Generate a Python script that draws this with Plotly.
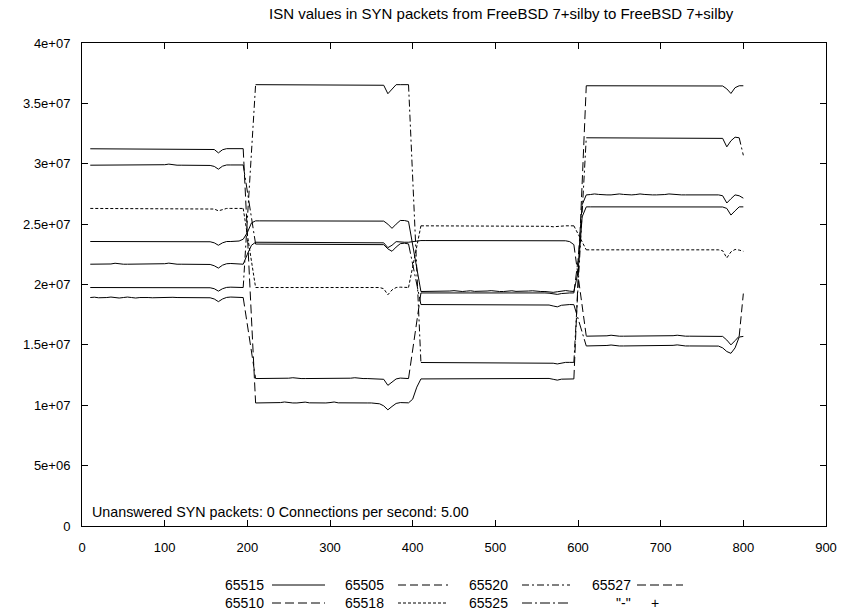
import plotly.graph_objects as go

# Sample positions (connection index), one sample every 5 connections.
# The four phases are 10-195, 210-395, 410-595, 610-800; the two
# values in between each phase belong to the changeover (None = no sample).
x_vals = list(range(10, 801, 5))

# ISN values per source port, in millions.
isn_65510 = [
    31.24, 31.24, 31.24, 31.24, 31.24, 31.24, 31.24, 31.24, 31.24, 31.24,
    31.24, 31.24, 31.24, 31.24, 31.24, 31.24, 31.24, 31.24, 31.24, 31.24,
    31.24, 31.24, 31.24, 31.24, 31.24, 31.24, 31.24, 31.24, 31.24, 31.22,
    31.18, 30.90, 31.16, 31.25, 31.25, 31.25, 31.25, 31.25,
    None, None,
    10.19, 10.19, 10.19, 10.19, 10.19, 10.19, 10.22, 10.27, 10.21, 10.19,
    10.19, 10.22, 10.26, 10.20, 10.19, 10.19, 10.19, 10.19, 10.22, 10.27,
    10.20, 10.19, 10.19, 10.19, 10.19, 10.19, 10.19, 10.19, 10.19, 10.17,
    10.12, 9.95, 9.62, 9.90, 10.15, 10.22, 10.20, 10.20,
    10.50, 11.50,
    12.18, 12.18, 12.18, 12.18, 12.18, 12.18, 12.18, 12.18, 12.18, 12.18,
    12.18, 12.18, 12.18, 12.18, 12.18, 12.18, 12.18, 12.18, 12.18, 12.18,
    12.18, 12.18, 12.18, 12.18, 12.18, 12.18, 12.18, 12.18, 12.18, 12.18,
    12.20, 12.22, 12.15, 12.08, 12.16, 12.18, 12.18, 12.18,
    None, None,
    36.46, 36.46, 36.46, 36.46, 36.46, 36.46, 36.46, 36.46, 36.46, 36.46,
    36.46, 36.46, 36.46, 36.46, 36.46, 36.46, 36.46, 36.46, 36.46, 36.46,
    36.46, 36.46, 36.46, 36.46, 36.46, 36.46, 36.46, 36.46, 36.46, 36.46,
    36.46, 36.46, 36.46, 36.44, 36.20, 35.82, 36.30, 36.46, 36.46,
]

isn_65525 = [
    29.88, 29.88, 29.88, 29.88, 29.88, 29.88, 29.88, 29.88, 29.88, 29.88,
    29.88, 29.88, 29.88, 29.88, 29.88, 29.88, 29.88, 29.88, 29.92, 29.97,
    29.90, 29.88, 29.88, 29.88, 29.88, 29.88, 29.88, 29.88, 29.88, 29.86,
    29.78, 29.55, 29.80, 29.90, 29.90, 29.90, 29.90, 29.90,
    None, None,
    23.35, 23.35, 23.35, 23.35, 23.35, 23.35, 23.35, 23.35, 23.35, 23.35,
    23.35, 23.35, 23.35, 23.35, 23.35, 23.35, 23.35, 23.35, 23.35, 23.35,
    23.35, 23.35, 23.35, 23.35, 23.35, 23.35, 23.35, 23.35, 23.35, 23.35,
    23.35, 23.30, 22.95, 22.75, 23.10, 23.38, 23.42, 23.36,
    None, None,
    18.34, 18.34, 18.34, 18.34, 18.34, 18.34, 18.34, 18.34, 18.34, 18.34,
    18.34, 18.34, 18.34, 18.34, 18.34, 18.34, 18.34, 18.34, 18.34, 18.34,
    18.34, 18.34, 18.34, 18.34, 18.34, 18.34, 18.36, 18.34, 18.34, 18.34,
    18.34, 18.30, 18.22, 18.15, 18.28, 18.34, 18.34, 18.33,
    None, None,
    14.91, 14.91, 14.91, 14.91, 14.91, 14.95, 14.99, 14.93, 14.91, 14.91,
    14.91, 14.91, 14.91, 14.91, 14.91, 14.91, 14.91, 14.91, 14.91, 14.91,
    14.91, 14.96, 15.00, 14.93, 14.91, 14.91, 14.91, 14.91, 14.91, 14.91,
    14.91, 14.91, 14.90, 14.75, 14.45, 14.30, 14.75, 15.65, 15.70,
]

isn_65515 = [
    23.56, 23.56, 23.56, 23.56, 23.56, 23.56, 23.56, 23.56, 23.56, 23.56,
    23.56, 23.56, 23.56, 23.56, 23.56, 23.56, 23.56, 23.56, 23.56, 23.56,
    23.56, 23.56, 23.56, 23.56, 23.56, 23.56, 23.56, 23.56, 23.56, 23.54,
    23.45, 23.25, 23.45, 23.56, 23.56, 23.56, 23.60, 23.75,
    24.30, 25.10,
    25.27, 25.27, 25.27, 25.27, 25.27, 25.27, 25.27, 25.27, 25.27, 25.27,
    25.27, 25.27, 25.27, 25.27, 25.27, 25.27, 25.27, 25.27, 25.27, 25.27,
    25.27, 25.27, 25.27, 25.27, 25.27, 25.27, 25.27, 25.27, 25.27, 25.27,
    25.27, 25.25, 25.00, 24.65, 25.00, 25.30, 25.30, 25.22,
    None, None,
    19.42, 19.42, 19.45, 19.48, 19.43, 19.42, 19.42, 19.46, 19.49, 19.43,
    19.42, 19.45, 19.48, 19.43, 19.42, 19.42, 19.46, 19.49, 19.43, 19.42,
    19.42, 19.45, 19.48, 19.43, 19.42, 19.42, 19.46, 19.48, 19.43, 19.42,
    19.42, 19.40, 19.35, 19.40, 19.45, 19.50, 19.45, 19.42,
    21.00, 25.60,
    26.43, 26.43, 26.43, 26.43, 26.43, 26.43, 26.45, 26.43, 26.43, 26.43,
    26.43, 26.45, 26.47, 26.43, 26.43, 26.43, 26.43, 26.43, 26.45, 26.47,
    26.43, 26.43, 26.43, 26.43, 26.43, 26.43, 26.43, 26.43, 26.43, 26.43,
    26.43, 26.43, 26.43, 26.42, 26.30, 25.75, 26.10, 26.43, 26.43,
]

isn_65505 = [
    21.68, 21.68, 21.68, 21.68, 21.68, 21.70, 21.76, 21.70, 21.68, 21.68,
    21.68, 21.68, 21.68, 21.68, 21.68, 21.68, 21.68, 21.68, 21.72, 21.77,
    21.70, 21.68, 21.68, 21.68, 21.68, 21.68, 21.68, 21.68, 21.68, 21.66,
    21.55, 21.36, 21.60, 21.72, 21.74, 21.70, 21.68, 21.68,
    22.50, 23.25,
    23.50, 23.50, 23.50, 23.50, 23.50, 23.50, 23.50, 23.50, 23.50, 23.50,
    23.50, 23.50, 23.50, 23.50, 23.50, 23.50, 23.50, 23.50, 23.50, 23.50,
    23.50, 23.50, 23.50, 23.50, 23.50, 23.50, 23.50, 23.50, 23.50, 23.50,
    23.50, 23.45, 23.05, 23.25, 23.55, 23.50, 23.50, 23.50,
    23.55, 23.62,
    23.64, 23.64, 23.64, 23.64, 23.64, 23.64, 23.64, 23.64, 23.64, 23.64,
    23.64, 23.64, 23.64, 23.64, 23.64, 23.64, 23.64, 23.64, 23.64, 23.64,
    23.64, 23.64, 23.64, 23.64, 23.64, 23.64, 23.64, 23.64, 23.64, 23.64,
    23.64, 23.64, 23.64, 23.64, 23.64, 23.62, 23.55, 23.30,
    None, None,
    15.72, 15.72, 15.72, 15.72, 15.72, 15.75, 15.80, 15.74, 15.72, 15.72,
    15.72, 15.72, 15.72, 15.72, 15.72, 15.72, 15.72, 15.72, 15.72, 15.72,
    15.72, 15.76, 15.80, 15.74, 15.72, 15.72, 15.72, 15.72, 15.72, 15.72,
    15.72, 15.72, 15.72, 15.70, 15.40, 15.00, 15.35, 15.72, 19.25,
]

isn_65518 = [
    26.30, 26.30, 26.30, 26.30, 26.30, 26.30, 26.30, 26.30, 26.30, 26.30,
    26.30, 26.30, 26.30, 26.30, 26.30, 26.30, 26.30, 26.30, 26.30, 26.30,
    26.30, 26.30, 26.30, 26.30, 26.30, 26.30, 26.30, 26.30, 26.30, 26.30,
    26.25, 26.10, 26.22, 26.30, 26.30, 26.30, 26.30, 26.30,
    None, None,
    19.75, 19.75, 19.75, 19.75, 19.75, 19.75, 19.75, 19.75, 19.75, 19.75,
    19.75, 19.75, 19.75, 19.75, 19.75, 19.75, 19.75, 19.75, 19.75, 19.75,
    19.75, 19.75, 19.75, 19.75, 19.75, 19.75, 19.75, 19.75, 19.75, 19.75,
    19.75, 19.65, 19.15, 19.55, 19.75, 19.78, 19.75, 19.75,
    None, None,
    24.86, 24.86, 24.86, 24.86, 24.86, 24.86, 24.86, 24.86, 24.86, 24.86,
    24.86, 24.86, 24.86, 24.86, 24.86, 24.86, 24.86, 24.86, 24.86, 24.86,
    24.86, 24.86, 24.86, 24.86, 24.86, 24.86, 24.86, 24.86, 24.86, 24.86,
    24.86, 24.82, 24.78, 24.82, 24.86, 24.86, 24.86, 24.86,
    None, None,
    22.87, 22.87, 22.87, 22.87, 22.87, 22.87, 22.87, 22.87, 22.87, 22.87,
    22.87, 22.87, 22.87, 22.87, 22.87, 22.87, 22.87, 22.87, 22.87, 22.87,
    22.87, 22.87, 22.87, 22.87, 22.87, 22.87, 22.87, 22.87, 22.87, 22.87,
    22.87, 22.87, 22.87, 22.80, 22.20, 22.70, 22.90, 22.85, 22.75,
]

isn_65520 = [
    19.75, 19.75, 19.75, 19.75, 19.75, 19.75, 19.75, 19.75, 19.75, 19.75,
    19.75, 19.75, 19.75, 19.75, 19.75, 19.75, 19.75, 19.75, 19.75, 19.75,
    19.75, 19.75, 19.75, 19.75, 19.75, 19.75, 19.75, 19.75, 19.75, 19.73,
    19.65, 19.45, 19.65, 19.76, 19.78, 19.76, 19.75, 19.75,
    None, None,
    36.55, 36.55, 36.55, 36.55, 36.55, 36.55, 36.55, 36.55, 36.55, 36.55,
    36.55, 36.55, 36.55, 36.55, 36.55, 36.55, 36.55, 36.55, 36.55, 36.55,
    36.55, 36.55, 36.55, 36.55, 36.55, 36.55, 36.55, 36.55, 36.55, 36.55,
    36.55, 36.50, 35.80, 36.20, 36.55, 36.55, 36.55, 36.55,
    None, None,
    13.54, 13.54, 13.54, 13.54, 13.54, 13.54, 13.54, 13.54, 13.54, 13.54,
    13.54, 13.54, 13.54, 13.54, 13.54, 13.54, 13.54, 13.54, 13.54, 13.54,
    13.54, 13.54, 13.54, 13.54, 13.54, 13.54, 13.54, 13.54, 13.54, 13.54,
    13.54, 13.52, 13.48, 13.42, 13.50, 13.55, 13.55, 13.55,
    None, None,
    32.15, 32.15, 32.15, 32.15, 32.15, 32.15, 32.15, 32.15, 32.15, 32.15,
    32.15, 32.15, 32.15, 32.15, 32.15, 32.15, 32.15, 32.15, 32.15, 32.15,
    32.15, 32.15, 32.15, 32.15, 32.15, 32.15, 32.15, 32.15, 32.15, 32.15,
    32.15, 32.15, 32.15, 32.10, 31.40, 31.90, 32.20, 32.15, 30.70,
]

isn_65527 = [
    18.92, 18.95, 18.90, 18.88, 18.92, 18.96, 18.92, 18.88, 18.92, 18.96,
    18.92, 18.88, 18.92, 18.95, 18.92, 18.90, 18.92, 18.92, 18.95, 18.98,
    18.94, 18.92, 18.92, 18.92, 18.92, 18.92, 18.92, 18.92, 18.92, 18.90,
    18.80, 18.58, 18.80, 18.93, 18.96, 18.93, 18.92, 18.92,
    None, None,
    12.21, 12.21, 12.21, 12.21, 12.21, 12.21, 12.21, 12.21, 12.24, 12.28,
    12.22, 12.21, 12.21, 12.21, 12.21, 12.21, 12.21, 12.21, 12.21, 12.21,
    12.21, 12.21, 12.21, 12.24, 12.28, 12.22, 12.21, 12.21, 12.21, 12.21,
    12.21, 12.15, 11.65, 11.95, 12.18, 12.25, 12.22, 12.21,
    None, None,
    19.30, 19.30, 19.32, 19.35, 19.31, 19.30, 19.30, 19.33, 19.36, 19.31,
    19.30, 19.30, 19.30, 19.30, 19.30, 19.30, 19.30, 19.30, 19.30, 19.30,
    19.30, 19.30, 19.33, 19.36, 19.31, 19.30, 19.30, 19.30, 19.30, 19.30,
    19.30, 19.28, 19.22, 19.18, 19.25, 19.30, 19.30, 19.30,
    22.00, 26.60,
    27.42, 27.45, 27.50, 27.46, 27.42, 27.42, 27.42, 27.45, 27.50, 27.46,
    27.42, 27.42, 27.45, 27.50, 27.46, 27.42, 27.42, 27.42, 27.42, 27.45,
    27.50, 27.46, 27.42, 27.42, 27.42, 27.42, 27.42, 27.42, 27.42, 27.42,
    27.42, 27.42, 27.42, 27.35, 26.75, 27.10, 27.42, 27.35, 27.15,
]

# Key order (column-major in the key: 65515, 65510, 65505, ...)
ports = ["65515", "65510", "65505", "65518", "65520", "65525", "65527"]
series = {
    "65515": isn_65515,
    "65510": isn_65510,
    "65505": isn_65505,
    "65518": isn_65518,
    "65520": isn_65520,
    "65525": isn_65525,
    "65527": isn_65527,
}

x_tick_vals = [0, 100, 200, 300, 400, 500, 600, 700, 800, 900]
y_tick_vals = [0, 5e6, 1e7, 1.5e7, 2e7, 2.5e7, 3e7, 3.5e7, 4e7]
y_tick_text = ["0", "5e+06", "1e+07", "1.5e+07", "2e+07", "2.5e+07",
               "3e+07", "3.5e+07", "4e+07"]

title_text = "ISN values in SYN packets from FreeBSD 7+silby to FreeBSD 7+silby"
info_text = "Unanswered SYN packets: 0 Connections per second: 5.00"

# ---- styling ----------------------------------------------------------
W, H = 848, 615
ML, MR, MT, MB = 82, 22, 43, 89
PW, PH = W - ML - MR, H - MT - MB
FONT = "Liberation Sans, Arial, Helvetica, sans-serif"
TICK_FS = 13
TITLE_FS = 15
TEXT_FS = 14.3
KEY_FS = 14

# Dash pattern per port; the short, nearly level steps draw solid (the
# pattern restarts on each short step), the long jumps show the pattern.
dash = {
    "65515": "solid",
    "65510": "9px,4px",
    "65505": "8px,4px",
    "65518": "3px,2px",
    "65520": "7px,3px,2px,3px",
    "65525": "10px,3px,2px,3px",
    "65527": "9px,4px",
}
STEEP = 1.0  # million; a step larger than this counts as a jump


def px(xp):
    return (xp - ML) / PW


def py(yp):
    return (H - MB - yp) / PH


def split_steps(xs, vals):
    """Split a series into level steps and jumps (each a None-broken path)."""
    pts = [(x, v * 1e6) for x, v in zip(xs, vals) if v is not None]
    paths = {"level": ([], []), "jump": ([], [])}
    last = {"level": None, "jump": None}
    for (x0, y0), (x1, y1) in zip(pts[:-1], pts[1:]):
        kind = "jump" if abs(y1 - y0) > STEEP * 1e6 else "level"
        px_, py_ = paths[kind]
        if last[kind] != (x0, y0):
            if px_:
                px_.append(None)
                py_.append(None)
            px_.append(x0)
            py_.append(y0)
        px_.append(x1)
        py_.append(y1)
        last[kind] = (x1, y1)
    return paths


fig = go.Figure()
for port in ports:
    paths = split_steps(x_vals, series[port])
    level_dash = "3px,2px" if port == "65518" else "solid"
    for kind, d in (("level", level_dash), ("jump", dash[port])):
        xs, ys = paths[kind]
        if not xs:
            continue
        fig.add_trace(go.Scatter(
            x=xs, y=ys, mode="lines", name=port,
            line=dict(color="#000000", width=1, dash=d),
            showlegend=False,
        ))

annotations = [
    dict(text=title_text, x=px(501), y=py(13), xref="paper", yref="paper",
         xanchor="center", yanchor="middle", showarrow=False,
         font=dict(family=FONT, size=TITLE_FS, color="black")),
    dict(text=info_text, x=px(90), y=py(512), xref="paper", yref="paper",
         xanchor="left", yanchor="middle", showarrow=False,
         font=dict(family=FONT, size=TEXT_FS, color="black")),
]
shapes = []

# key: two rows, four columns, label right-aligned left of its sample
key_cols = [(265, 272, 325), (385, 398, 448), (509, 522, 570), (632, 637, 683)]
key_rows = [585, 603]
key_entries = ports + ['"-"']
for i, label in enumerate(key_entries):
    col, row = divmod(i, 2)
    lx, s0, s1 = key_cols[col]
    yy = key_rows[row]
    annotations.append(dict(
        text=label, x=px(lx), y=py(yy), xref="paper", yref="paper",
        xanchor="right", yanchor="middle", showarrow=False, borderpad=0,
        font=dict(family=FONT, size=KEY_FS, color="black")))
    if label in dash:
        shapes.append(dict(
            type="line", xref="paper", yref="paper",
            x0=px(s0), x1=px(s1), y0=py(yy), y1=py(yy),
            line=dict(color="black", width=1, dash=dash[label])))
    else:
        annotations.append(dict(
            text="+", x=px(655), y=py(yy), xref="paper", yref="paper",
            xanchor="center", yanchor="middle", showarrow=False, borderpad=0,
            font=dict(family=FONT, size=KEY_FS, color="black")))

axis_common = dict(
    showline=True, linecolor="black", linewidth=1, mirror="allticks",
    ticks="inside", ticklen=6, tickwidth=1, tickcolor="black",
    showgrid=False, zeroline=False,
    tickfont=dict(family=FONT, size=TICK_FS, color="black"),
)

fig.update_layout(
    width=W, height=H,
    margin=dict(l=ML, r=MR, t=MT, b=MB, pad=0),
    paper_bgcolor="white", plot_bgcolor="white",
    xaxis=dict(range=[0, 900], tickvals=x_tick_vals,
               ticktext=[str(v) for v in x_tick_vals],
               ticklabelstandoff=9, **axis_common),
    yaxis=dict(range=[0, 4e7], tickvals=y_tick_vals, ticktext=y_tick_text,
               ticklabelstandoff=8, **axis_common),
    annotations=annotations,
    shapes=shapes,
    showlegend=False,
)

fig.write_html("out.html")
